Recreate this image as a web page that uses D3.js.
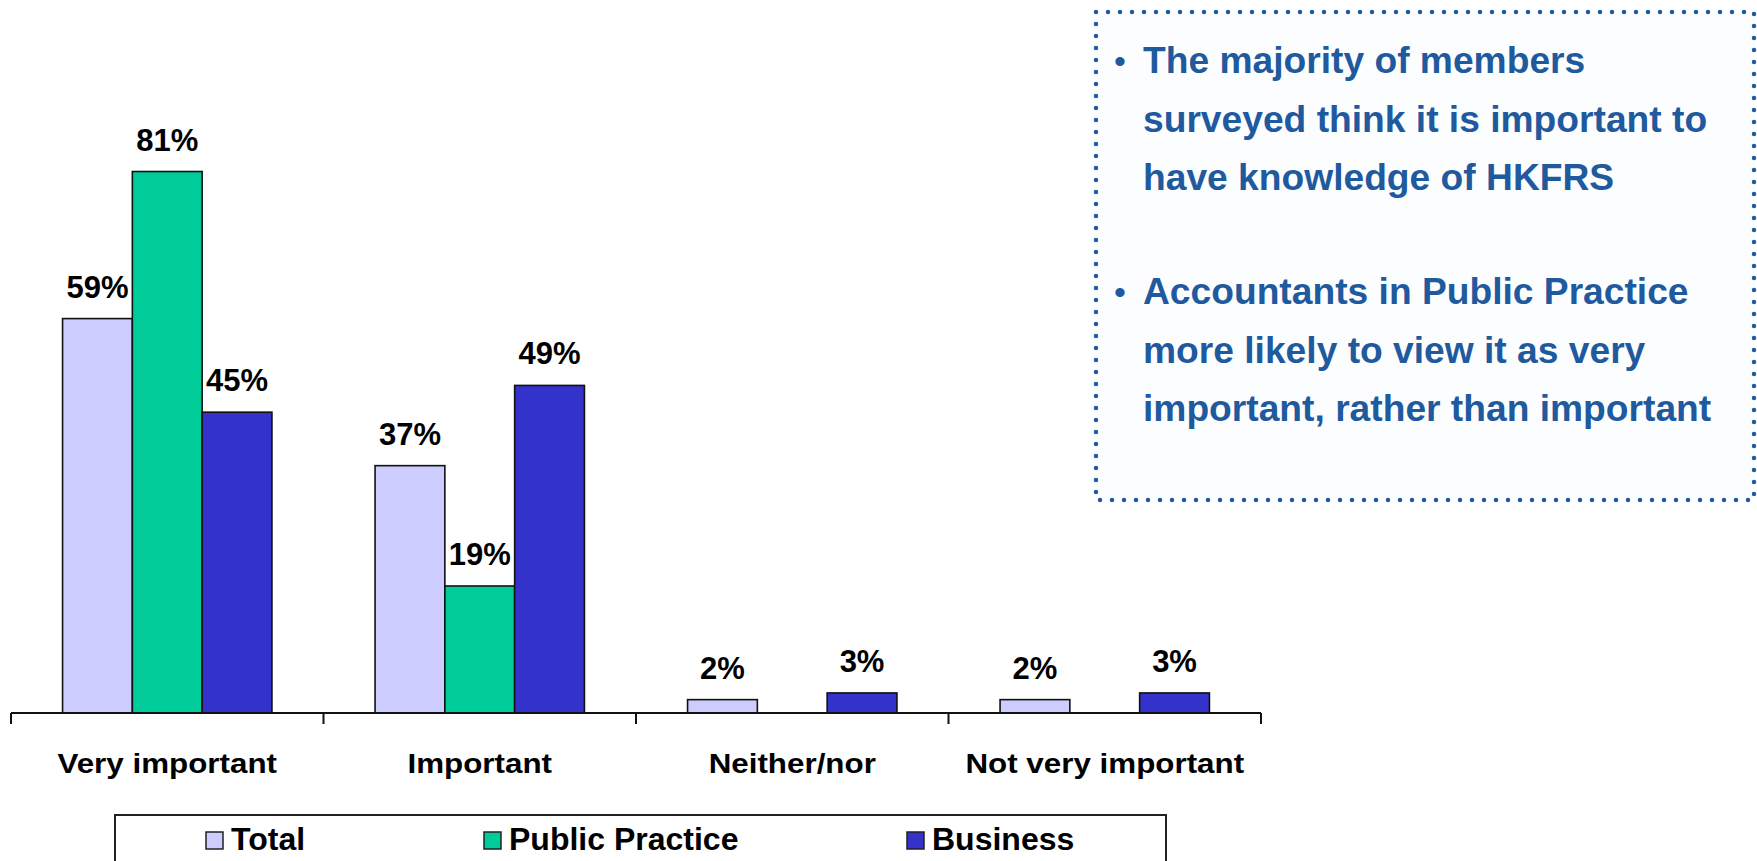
<!DOCTYPE html>
<html>
<head>
<meta charset="utf-8">
<script src="https://d3js.org/d3.v7.min.js"></script>
<style>
    body { margin: 0; background: #ffffff; }
    svg { display: block; font-family: "Liberation Sans", Arial, sans-serif; }
</style>
</head>
<body>
<div id="chart"></div>
<script>
// chart data
var categories = ["Very important", "Important", "Neither/nor", "Not very important"];
var seriesNames = ["Total", "Public Practice", "Business"];
var totalValues = [59, 37, 2, 2];
var publicValues = [81, 19, 0, 0];
var businessValues = [45, 49, 3, 3];
var seriesColors = ["#ccccff", "#00cc99", "#3333cc"];

var notes = [
    ["The majority of members", "surveyed think it is important to", "have knowledge of HKFRS"],
    ["Accountants in Public Practice", "more likely to view it as very", "important, rather than important"]
];

createChart("#chart", 1757, 861);

function createChart(eleDiv, w, h) {
    var axisY = 713,
        axisLeft = 11,
        axisRight = 1261;

    var svg = d3.select(eleDiv).append("svg")
        .attr("width", w)
        .attr("height", h);

    var values = [totalValues, publicValues, businessValues];

    // setup x (categories) and inner x (series)
    var x0 = d3.scaleBand()
        .domain(categories)
        .range([axisLeft, axisRight]);
    var groupWidth = x0.bandwidth() * 0.67;
    var x1 = d3.scaleBand()
        .domain(seriesNames)
        .range([0, groupWidth]);

    // setup y
    var yScale = d3.scaleLinear()
        .domain([0, 100])
        .range([axisY, axisY - 668.5]);

    var rows = [];
    categories.forEach(function (c, i) {
        seriesNames.forEach(function (s, j) {
            rows.push({ cat: c, series: s, color: seriesColors[j], value: values[j][i] });
        });
    });
    // zero values get no bar and no label
    rows = rows.filter(function (d) { return d.value > 0; });

    function barX(d) {
        return x0(d.cat) + (x0.bandwidth() - groupWidth) / 2 + x1(d.series);
    }

    // bars
    svg.selectAll(".bar")
        .data(rows)
        .enter().append("rect")
        .attr("class", "bar")
        .attr("x", barX)
        .attr("y", function (d) { return yScale(d.value); })
        .attr("width", x1.bandwidth())
        .attr("height", function (d) { return axisY - yScale(d.value); })
        .style("fill", function (d) { return d.color; })
        .style("stroke", "#111")
        .style("stroke-width", 1.6);

    // value labels
    svg.selectAll(".valueText")
        .data(rows)
        .enter().append("text")
        .attr("class", "valueText")
        .attr("x", function (d) { return barX(d) + x1.bandwidth() / 2; })
        .attr("y", function (d) { return yScale(d.value) - 21; })
        .style("text-anchor", "middle")
        .style("font-size", "31px")
        .style("font-weight", "bold")
        .style("fill", "#000")
        .text(function (d) { return d.value + "%"; });

    // x-axis with ticks between categories
    var xAxis = svg.append("g").attr("class", "x axis");
    xAxis.append("line")
        .attr("x1", axisLeft).attr("x2", axisRight)
        .attr("y1", axisY).attr("y2", axisY)
        .style("stroke", "#111")
        .style("stroke-width", 2);
    var tickPos = categories.map(function (c) { return x0(c); }).concat([axisRight]);
    xAxis.selectAll(".tick")
        .data(tickPos)
        .enter().append("line")
        .attr("class", "tick")
        .attr("x1", function (d) { return d; }).attr("x2", function (d) { return d; })
        .attr("y1", axisY).attr("y2", axisY + 11)
        .style("stroke", "#111")
        .style("stroke-width", 2);

    xAxis.selectAll(".catText")
        .data(categories)
        .enter().append("text")
        .attr("class", "catText")
        .attr("transform", function (d) {
            return "translate(" + (x0(d) + x0.bandwidth() / 2) + "," + 773 + ") scale(1.12,1)";
        })
        .style("text-anchor", "middle")
        .style("font-size", "28px")
        .style("font-weight", "bold")
        .style("fill", "#000")
        .text(function (d) { return d; });

    // legend
    var legend = svg.append("g").attr("class", "legend");
    legend.append("rect")
        .attr("x", 115).attr("y", 815)
        .attr("width", 1051).attr("height", 80)
        .style("fill", "#fff")
        .style("stroke", "#222")
        .style("stroke-width", 2);
    var legendX = [206, 484, 907];
    var items = legend.selectAll(".item")
        .data(seriesNames)
        .enter().append("g")
        .attr("class", "item")
        .attr("transform", function (d, i) { return "translate(" + legendX[i] + ",0)"; });
    items.append("rect")
        .attr("x", 0).attr("y", 832)
        .attr("width", 17).attr("height", 17)
        .style("fill", function (d, i) { return seriesColors[i]; })
        .style("stroke", "#222")
        .style("stroke-width", 1.5);
    items.append("text")
        .attr("x", 25).attr("y", 850)
        .style("font-size", "32px")
        .style("font-weight", "bold")
        .style("fill", "#000")
        .text(function (d) { return d; });

    // dotted note box
    var noteColor = "#1f5a9f";
    var box = svg.append("g").attr("class", "notes");
    box.append("rect")
        .attr("x", 1096).attr("y", 12)
        .attr("width", 658).attr("height", 488)
        .style("fill", "#fcfdfe")
        .style("stroke", noteColor)
        .style("stroke-width", 4.5)
        .style("stroke-linecap", "round")
        .style("stroke-dasharray", "0 12");

    var noteTop = [73, 304];
    notes.forEach(function (lines, k) {
        box.append("text")
            .attr("x", 1114).attr("y", noteTop[k])
            .style("font-size", "34px")
            .style("fill", noteColor)
            .text("\u2022");
        lines.forEach(function (t, i) {
            box.append("text")
                .attr("x", 1143).attr("y", noteTop[k] + i * 58.5)
                .style("font-size", "37.2px")
                .style("font-weight", "bold")
                .style("fill", noteColor)
                .text(t);
        });
    });
}
</script>
</body>
</html>
